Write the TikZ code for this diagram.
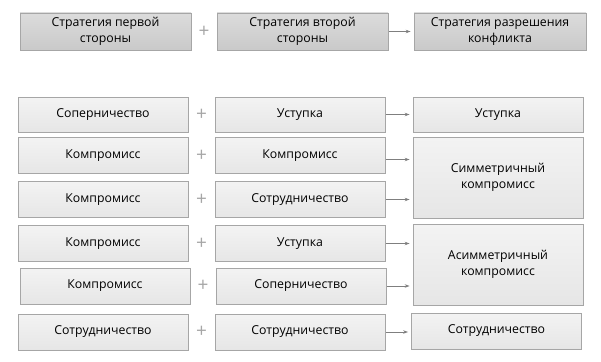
\documentclass[tikz,border=0pt]{standalone}
\usepackage{fontspec}
\setmainfont{Open Sans}
\usetikzlibrary{arrows.meta,calc}
\definecolor{bordc}{HTML}{A6A6A6}
\definecolor{linec}{HTML}{7F7F7F}
\definecolor{boxtop}{HTML}{F3F3F3}
\definecolor{boxbot}{HTML}{E6E6E6}
\definecolor{headtop}{HTML}{DCDCDC}
\definecolor{headbot}{HTML}{C9C9C9}
\tikzset{
  box/.style={draw=bordc, line width=0.8pt, top color=boxtop, bottom color=boxbot,
    minimum width=170pt, minimum height=36pt, align=center, inner sep=2pt,
    font=\fontsize{12.3}{16}\selectfont, text=black},
  head/.style={box, top color=headtop, bottom color=headbot},
  pluss/.style={text=bordc, font=\fontsize{19}{19}\selectfont, inner sep=0pt},
  arr/.style={draw=linec, line width=0.7pt, -{Stealth[length=5pt,width=3.5pt]}, shorten >=3pt, shorten <=1pt},
}
\begin{document}
\begin{tikzpicture}[x=1pt,y=-1pt]
\useasboundingbox (0,0) rectangle (601,361);
% header
\node[head, minimum width=171pt, minimum height=37pt] (h1) at (105.5,31.5) {Стратегия первой\\стороны};
\node[head, minimum width=171pt, minimum height=37pt] (h2) at (302.5,31.5) {Стратегия второй\\стороны};
\node[head, minimum width=172pt, minimum height=37pt] (h3) at (500,31.5) {Стратегия разрешения\\конфликта};
\node[pluss] (hp) at ($(h1.east)!0.5!(h2.west)$) {+};
\draw[arr] (h2.east) -- (h3.west);
% rows
\node[box, minimum height=35pt] (a1) at (103,114.5) {Соперничество};
\node[box, minimum height=35pt] (b1) at (300,114.5) {Уступка};
\node[box] (a2) at (103,155.5) {Компромисс};
\node[box] (b2) at (300,155.5) {Компромисс};
\node[box] (a3) at (103,199.5) {Компромисс};
\node[box] (b3) at (300,199.5) {Сотрудничество};
\node[box] (a4) at (103,243.5) {Компромисс};
\node[box] (b4) at (300,243.5) {Уступка};
\node[box] (a5) at (105,286) {Компромисс};
\node[box] (b5) at (301,286) {Соперничество};
\node[box] (a6) at (103,332) {Сотрудничество};
\node[box] (b6) at (300,332) {Сотрудничество};
% results
\node[box, minimum height=35pt] (r1) at (498,114.5) {Уступка};
\node[box, minimum height=81pt] (r2) at (498,177.5) {Симметричный\\компромисс};
\node[box, minimum height=81pt] (r3) at (498,264.5) {Асимметричный\\компромисс};
\node[box] (r4) at (496.5,331) {Сотрудничество};
% pluses
\foreach \i in {1,...,6}{
  \node[pluss] (p\i) at ($(a\i.east)!0.5!(b\i.west)$) {+};
}
% arrows
\draw[arr] (b1.east) -- (b1.east -| r1.west);
\draw[arr] ([yshift=-4pt]b2.east) -- ([yshift=-4pt]b2.east -| r2.west);
\draw[arr] (b3.east) -- (b3.east -| r2.west);
\draw[arr] (b4.east) -- (b4.east -| r3.west);
\draw[arr] (b5.east) -- (b5.east -| r3.west);
\draw[arr] (b6.east) -- (b6.east -| r4.west);
\end{tikzpicture}
\end{document}
